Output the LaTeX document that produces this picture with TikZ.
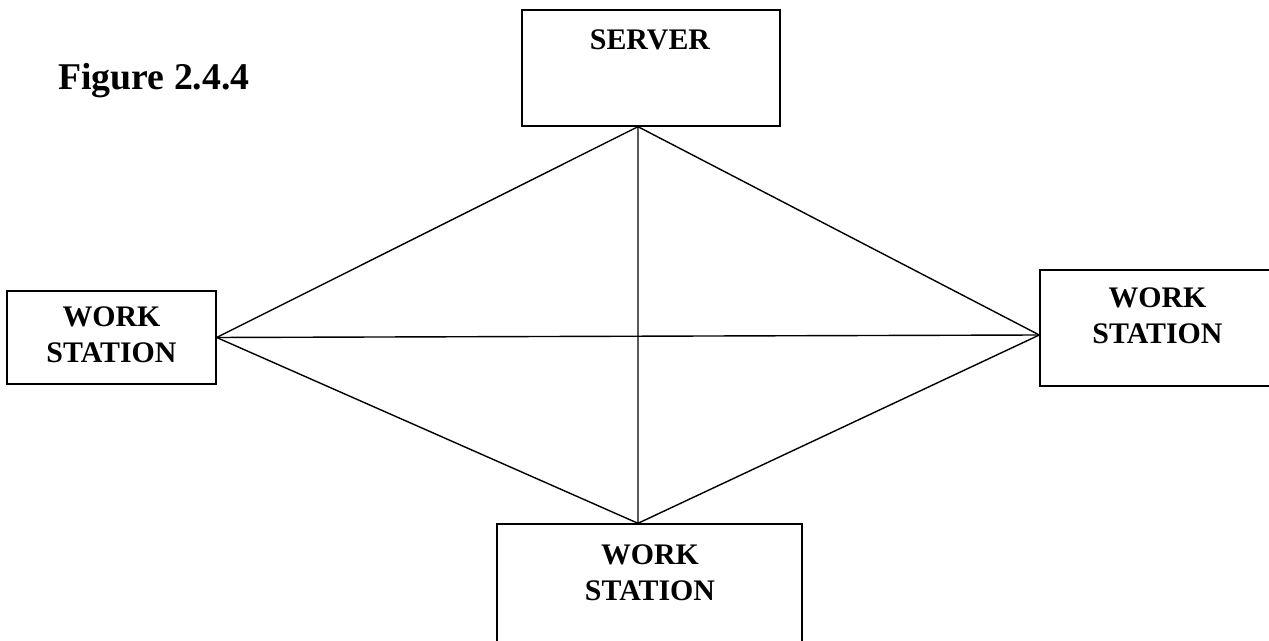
\documentclass[tikz,border=0pt]{standalone}
\usepackage{fontspec}
\setmainfont{Liberation Serif}
\usetikzlibrary{calc,positioning}

\tikzset{
  box/.style={draw, line width=0.8pt, inner sep=0pt},
  lbl/.style={font=\fontsize{17}{20.5}\selectfont\bfseries, align=center, inner sep=0pt},
  link/.style={line width=0.8pt}
}

\begin{document}
\begin{tikzpicture}[x=0.02cm,y=-0.02cm]
\useasboundingbox (0,0) rectangle (1269,641);
\clip (0,0) rectangle (1269,641);

\node [anchor=base west, inner sep=0pt, font=\fontsize{21.5}{26}\selectfont\bfseries] (title) at (58,90) {Figure 2.4.4};

% the four boxes
\node [box, minimum width=5.16cm, minimum height=2.32cm] (server) at (651,68) {};
\node [box, minimum width=4.18cm, minimum height=1.86cm] (left) at (111.5,337.5) {};
\node [box, minimum width=4.7cm, minimum height=2.32cm] (right) at (1157.5,328) {};
\node [box, minimum width=6.1cm, minimum height=2.4cm] (bottom) at (649.5,584) {};

\node [lbl] (serverlbl) at (650,40) {SERVER};
\node [lbl] (leftlbl) at (111.5,335) {WORK\\STATION};
\node [lbl] (rightlbl) at (1157.5,316) {WORK\\STATION};
\node [lbl] (bottomlbl) at (650,572.5) {WORK\\STATION};

% where the links meet the boxes
\coordinate (top) at ($(server.south)+(-13,0)$);
\coordinate (bot) at ($(bottom.north)+(-11.5,0)$);
\coordinate (lft) at (left.east);
\coordinate (rgt) at ($(right.west)+(0,7)$);

\draw [link] (top) -- (lft) -- (bot) -- (rgt) -- (top) -- (bot);
\draw [link] (lft) -- (rgt);

\end{tikzpicture}
\end{document}
